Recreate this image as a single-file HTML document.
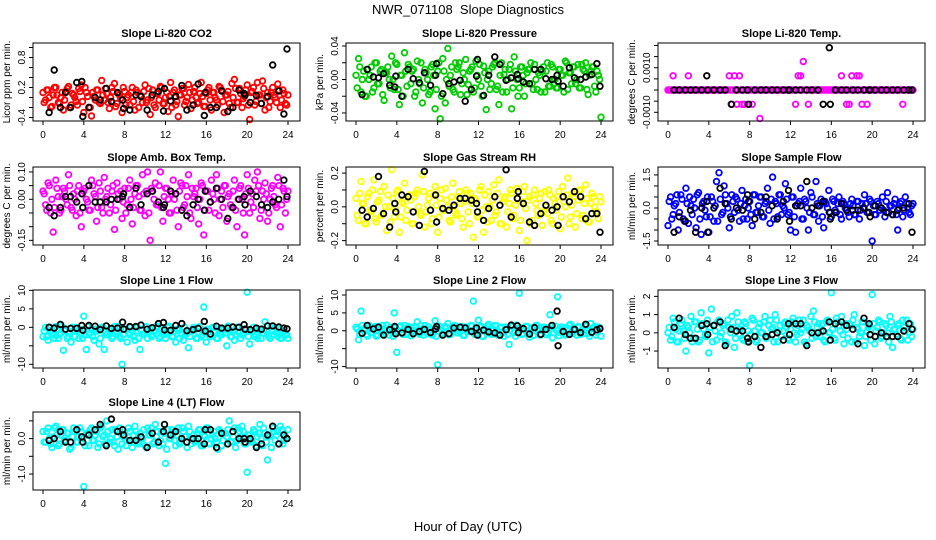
<!DOCTYPE html>
<html><head><meta charset="utf-8"><style>
html,body{margin:0;padding:0;background:#fff;}
svg{display:block;font-family:"Liberation Sans",sans-serif;}
</style></head><body>
<svg id="chart" width="936" height="540" viewBox="0 0 936 540" xmlns="http://www.w3.org/2000/svg">
<rect width="936" height="540" fill="#fff"/>
<text x="468" y="14" text-anchor="middle" font-size="13">NWR_071108&#160;&#160;Slope Diagnostics</text>
<text x="468" y="531" text-anchor="middle" font-size="13">Hour of Day (UTC)</text>
</svg>
<script>
const hoursC = [0,0.25,0.5,0.75,1,1.25,1.5,1.75,2,2.25,2.5,2.75,3,3.25,3.5,3.75,4,4.25,4.5,4.75,5,5.25,5.5,5.75,6,6.25,6.5,6.75,7,7.25,7.5,7.75,8,8.25,8.5,8.75,9,9.25,9.5,9.75,10,10.25,10.5,10.75,11,11.25,11.5,11.75,12,12.25,12.5,12.75,13,13.25,13.5,13.75,14,14.25,14.5,14.75,15,15.25,15.5,15.75,16,16.25,16.5,16.75,17,17.25,17.5,17.75,18,18.25,18.5,18.75,19,19.25,19.5,19.75,20,20.25,20.5,20.75,21,21.25,21.5,21.75,22,22.25,22.5,22.75,23,23.25,23.5,23.75,24];
const hoursC2 = [0.12,0.37,0.62,0.87,1.12,1.37,1.62,1.87,2.12,2.37,2.62,2.87,3.12,3.37,3.62,3.87,4.12,4.37,4.62,4.87,5.12,5.37,5.62,5.87,6.12,6.37,6.62,6.87,7.12,7.37,7.62,7.87,8.12,8.37,8.62,8.87,9.12,9.37,9.62,9.87,10.12,10.37,10.62,10.87,11.12,11.37,11.62,11.87,12.12,12.37,12.62,12.87,13.12,13.37,13.62,13.87,14.12,14.37,14.62,14.87,15.12,15.37,15.62,15.87,16.12,16.37,16.62,16.87,17.12,17.37,17.62,17.87,18.12,18.37,18.62,18.87,19.12,19.37,19.62,19.87,20.12,20.37,20.62,20.87,21.12,21.37,21.62,21.87,22.12,22.37,22.62,22.87,23.12,23.37,23.62,23.87];
const hoursB = [0.6,1.1,1.7,2.2,2.7,3.3,3.8,3.9,4.5,5.1,5.6,6.2,6.7,7.3,7.8,7.9,8.5,9.1,9.6,10.2,10.7,11.3,11.8,11.9,12.5,13.0,13.6,14.1,14.7,15.2,15.8,15.9,16.4,17.0,17.5,18.1,18.6,19.2,19.7,19.8,20.3,20.9,21.4,22.0,22.5,23.1,23.6,23.9];
const xTicks = [0,4,8,12,16,20,24];

const co2C = [0.1,-0.05,0.15,-0.2,0.05,0.2,-0.1,0.0,-0.25,0.12,0.22,-0.15,0.05,-0.08,0.18,0.25,-0.3,0.1,-0.2,-0.37,0.02,0.15,-0.1,0.34,-0.05,0.08,-0.22,0.2,0.28,-0.12,0.05,-0.3,0.12,0.0,-0.15,0.2,-0.25,0.1,0.05,-0.1,0.25,-0.05,-0.34,0.15,-0.2,0.08,0.22,-0.12,0.0,-0.28,0.3,0.1,-0.15,-0.38,0.05,0.18,-0.08,0.26,-0.22,0.12,0.0,-0.1,0.3,-0.18,0.08,0.2,-0.25,0.1,-0.05,0.22,0.15,-0.3,0.05,-0.12,0.28,0.36,-0.1,0.18,-0.2,0.02,0.25,-0.44,0.12,-0.15,0.3,0.05,0.33,-0.25,0.1,-0.08,0.2,0.0,0.27,-0.2,0.15,-0.12,0.05];
const co2C2 = [-0.1,0.15,0.0,-0.18,0.2,0.05,-0.12,0.1,-0.05,0.18,-0.2,0.08,0.0,-0.15,0.12,-0.08,0.2,0.02,-0.2,0.1,-0.05,0.15,-0.12,0.05,0.18,-0.1,0.0,0.12,-0.18,0.08,-0.02,0.2,-0.15,0.05,0.1,-0.08,0.15,-0.2,0.02,0.12,-0.1,0.18,0.0,-0.15,0.08,-0.05,0.2,-0.12,0.1,0.02,-0.2,0.15,-0.08,0.05,0.18,-0.15,0.0,0.1,-0.05,0.2,-0.12,0.08,0.02,-0.18,0.15,-0.05,0.1,0.0,-0.15,0.2,-0.08,0.05,0.12,-0.2,0.0,0.18,-0.1,0.08,-0.02,0.15,-0.15,0.1,0.2,-0.08,0.05,-0.12,0.18,0.0,-0.2,0.1,0.05,-0.1,0.15,-0.05,0.08,-0.15];
const co2B = [-0.3,0.55,-0.2,0.1,-0.2,0.3,0.32,-0.38,-0.2,0.0,-0.05,0.18,-0.08,0.1,-0.05,-0.22,-0.25,0.05,0.02,-0.25,0.05,0.12,-0.27,0.18,-0.07,0.02,0.24,-0.25,-0.15,0.27,-0.36,0.1,-0.2,-0.2,0.13,-0.28,-0.2,0.15,0.08,0.05,-0.1,0.04,-0.12,0.02,0.65,0.13,-0.33,0.97];
const presC = [0.005,0.025,-0.015,0.01,-0.02,0.0,0.015,-0.01,0.02,-0.005,0.012,-0.025,0.008,0.0,0.028,-0.012,0.018,-0.03,0.005,0.032,-0.008,0.015,0.01,-0.02,0.022,-0.005,-0.028,0.012,0.0,-0.015,0.018,-0.035,0.01,-0.047,0.025,-0.028,0.037,0.005,-0.012,0.02,0.015,-0.018,0.008,0.024,-0.006,0.012,-0.015,0.022,0.0,-0.008,0.016,-0.036,0.01,-0.005,0.018,-0.012,-0.03,0.02,0.006,-0.015,0.012,-0.035,0.027,0.0,-0.01,0.015,-0.02,0.008,0.012,-0.005,0.018,-0.012,0.005,0.01,-0.015,0.02,-0.008,0.015,0.0,-0.01,0.012,0.005,0.022,-0.012,0.008,0.015,-0.005,0.018,-0.01,0.012,0.02,-0.018,0.01,0.015,-0.015,0.005,-0.045];
const presC2 = [-0.01,0.015,0.0,-0.02,0.012,0.005,-0.015,0.02,-0.005,0.01,-0.018,0.008,0.015,-0.01,0.0,0.02,-0.012,0.005,-0.02,0.01,0.018,-0.005,0.012,-0.015,0.0,0.02,-0.01,0.008,-0.018,0.015,0.005,-0.012,0.02,-0.02,0.01,0.0,-0.008,0.015,-0.015,0.012,0.02,-0.005,0.0,-0.018,0.01,0.015,-0.01,0.005,0.018,-0.02,0.008,0.0,-0.012,0.015,0.02,-0.008,0.005,-0.015,0.012,0.0,0.018,-0.01,0.01,-0.02,0.015,0.005,-0.005,0.012,0.02,-0.012,0.0,0.008,-0.015,0.015,0.01,-0.008,0.018,0.0,-0.01,0.012,0.005,-0.015,0.02,0.008,-0.005,0.015,0.0,-0.01,0.018,0.01,-0.012,0.005,0.015,-0.008,0.01,0.0];
const presB = [-0.018,0.012,0.003,0.002,0.007,-0.007,-0.009,0.004,-0.02,0.012,0.001,-0.004,0.008,-0.007,0.005,0.019,-0.017,-0.005,-0.003,-0.001,-0.026,-0.012,0.004,0.024,-0.019,0.005,0.027,0.018,-0.001,0.002,0.006,0.001,-0.003,-0.005,0.012,0.012,0.001,0.0,0.005,-0.002,-0.008,0.014,0.002,0.0,0.003,0.006,0.019,-0.008];
const tempC = [0,0,0.00064,0,0,0,0,0,0.00064,0,0,0,0,0,0,0,0,0,0,0,0,0,0,0,0.00064,-0.00064,0.00064,-0.00064,0.00064,-0.00064,-0.00064,0,0,-0.00064,0,0,-0.00128,0,0,0,0,0,0,0,0,0,0,0,0,0,-0.00064,0.00064,0.00064,0.00128,0,-0.00064,0,0,0,0,0,0,0,0,0,0,0,0,0.00064,0,-0.00064,-0.00064,0.00064,0,0.00064,0.00064,-0.00064,0,-0.00064,0,0,0,0,0,0,0,0,0,0,0,0,0,-0.00064,0,0,0,0];
const tempC2 = [0,0,0,0,0,0,0,0,0,0,0,0,0,0,0,0,0,0,0,0,0,0,0,0,0,0,0,0,0,0,0,0,0,0,0,0,0,0,0,0,0,0,0,0,0,0,0,0,0,0,0,0,0,0,0,0,0,0,0,0,0,0,0,0,0,0,0,0,0,0,0,0,0,0,0,0,0,0,0,0,0,0,0,0,0,0,0,0,0,0,0,0,0,0,0,0];
const tempB = [0,0,0,0,0,0,0.00064,0,0,0,0,-0.00064,0,0,0,-0.00064,0,0,0,0,0,0,0,0,0,0,0,0,0,-0.00064,0.0019,-0.00064,0,0,0,0,0,0,0,0,0,0,0,0,0,0,0,0];
const ambC = [0.03,-0.02,0.06,-0.05,-0.12,0.07,0.01,-0.04,0.04,0.0,0.09,-0.03,0.02,-0.06,0.05,-0.1,0.03,0.0,-0.04,0.07,0.02,-0.08,0.06,-0.03,0.08,0.01,-0.05,0.03,-0.11,0.06,0.0,-0.07,0.04,-0.02,0.07,-0.09,0.02,0.05,-0.04,0.09,-0.06,0.1,-0.15,0.03,0.06,-0.02,0.1,-0.08,0.04,0.0,-0.05,0.07,0.02,-0.1,0.06,-0.03,0.05,0.09,-0.07,0.01,0.04,-0.09,0.06,-0.13,0.03,-0.04,0.07,0.0,0.09,-0.06,0.03,0.05,-0.08,0.02,-0.03,0.07,-0.1,0.04,0.0,-0.13,0.09,-0.05,0.02,0.07,0.1,-0.07,0.03,0.06,-0.08,0.0,0.05,-0.02,0.08,-0.1,0.04,-0.05,0.03];
const ambC2 = [0.02,-0.04,0.05,0.0,-0.03,0.04,-0.05,0.01,0.03,-0.02,0.05,-0.04,0.0,0.03,-0.05,0.02,0.04,-0.01,-0.04,0.05,0.01,-0.03,0.03,-0.05,0.0,0.04,-0.02,0.05,-0.04,0.02,0.03,-0.01,-0.05,0.04,0.0,-0.03,0.05,0.01,-0.04,0.02,0.03,-0.05,0.04,0.0,-0.02,0.05,-0.03,0.01,0.04,-0.05,0.02,0.0,-0.04,0.03,0.05,-0.02,0.01,-0.05,0.04,0.02,-0.03,0.0,0.05,-0.04,0.03,-0.01,0.02,-0.05,0.04,0.0,-0.03,0.05,0.01,-0.02,0.03,-0.04,0.0,0.05,-0.05,0.02,0.04,-0.01,-0.03,0.03,0.05,-0.04,0.0,0.02,-0.05,0.04,0.01,-0.03,0.05,-0.02,0.03,0.0];
const ambB = [-0.03,-0.06,-0.03,0.01,0.01,-0.01,0.02,-0.03,0.05,-0.01,-0.01,-0.01,0.0,0.0,0.01,0.02,-0.03,0.04,-0.02,0.02,0.03,-0.01,-0.03,-0.02,0.03,0.02,-0.04,-0.06,-0.02,0.0,-0.04,0.03,-0.01,0.04,0.0,-0.07,-0.03,0.0,0.01,-0.02,0.03,0.01,-0.02,-0.03,-0.01,0.0,0.07,0.01];
const rhC = [0.05,-0.08,0.15,0.02,-0.1,0.08,-0.03,0.16,-0.09,0.04,-0.05,0.12,-0.14,0.0,0.22,-0.06,0.09,-0.15,0.03,0.14,-0.02,0.07,-0.1,0.06,0.1,-0.04,0.19,-0.12,0.01,0.08,-0.07,0.12,-0.15,0.05,-0.02,0.11,0.0,-0.09,0.14,-0.05,0.06,0.02,-0.12,0.1,-0.03,0.08,-0.18,0.04,-0.06,0.12,-0.15,0.0,0.09,-0.08,0.13,-0.03,0.16,-0.1,0.05,-0.12,0.02,0.08,-0.05,0.11,-0.14,0.03,0.12,-0.2,0.06,-0.08,0.1,-0.02,0.05,-0.11,0.09,-0.04,0.07,-0.1,0.02,0.06,-0.13,0.12,0.0,0.17,-0.06,0.08,-0.12,0.04,0.1,-0.05,0.13,-0.09,0.02,0.06,-0.03,-0.07,0.03];
const rhC2 = [-0.05,0.08,0.02,-0.1,0.06,-0.02,0.1,-0.07,0.03,0.09,-0.04,0.0,0.07,-0.09,0.05,-0.01,0.1,-0.06,0.02,-0.08,0.06,0.04,-0.1,0.08,0.0,-0.05,0.09,-0.03,0.05,-0.1,0.07,0.01,-0.06,0.1,-0.02,0.04,-0.08,0.06,0.0,-0.04,0.09,-0.07,0.03,0.08,-0.1,0.02,0.05,-0.06,0.1,-0.02,0.07,-0.09,0.0,0.04,-0.05,0.08,-0.1,0.03,0.06,-0.03,0.1,-0.07,0.01,0.05,-0.08,0.09,-0.01,0.04,-0.1,0.07,0.02,-0.05,0.08,-0.03,0.0,0.1,-0.08,0.05,-0.02,0.09,-0.06,0.03,0.07,-0.1,0.01,0.06,-0.04,0.1,-0.07,0.02,0.05,-0.09,0.08,0.0,-0.03,0.06];
const rhB = [-0.02,-0.06,-0.01,0.18,-0.04,-0.12,0.02,-0.03,0.07,0.06,-0.03,-0.11,0.21,-0.02,0.07,-0.09,-0.01,-0.02,0.01,0.05,0.05,0.04,0.02,-0.03,-0.08,-0.01,0.06,0.01,0.22,-0.06,0.05,0.09,0.02,-0.09,-0.11,-0.04,0.01,-0.02,0.0,-0.11,0.06,0.03,0.09,0.06,-0.07,-0.04,-0.04,-0.15];
const sampC = [-0.8,0.5,-0.3,0.2,-1.0,0.6,-0.5,0.9,-0.7,0.1,0.4,-0.9,0.7,-1.2,0.3,-0.4,-1.1,0.5,-0.6,1.2,1.6,-0.3,1.0,0.2,-0.9,0.6,-0.2,0.4,-0.6,0.8,0.1,-0.5,0.3,-0.8,0.6,-0.2,0.5,-0.4,0.2,0.9,-0.7,1.4,0.3,-0.4,0.6,0.1,1.1,-0.3,-1.0,0.5,-1.1,0.2,0.9,-0.5,0.3,-1.0,0.7,-0.3,1.2,-0.6,0.4,-0.9,0.2,0.8,-0.4,0.3,-0.2,0.5,-0.5,0.2,0.0,-0.4,0.4,-0.3,0.3,-0.5,0.2,0.6,-0.2,0.4,-1.5,-0.3,0.3,-0.1,0.5,-0.4,0.7,0.1,-0.3,0.4,-1.0,0.2,-0.4,0.5,0.0,-0.3,0.2];
const sampC2 = [0.3,-0.5,0.1,0.6,-0.2,0.4,-0.6,0.2,0.5,-0.3,0.0,0.6,-0.5,0.2,-0.1,0.5,-0.4,0.3,0.1,-0.6,0.4,-0.2,0.6,0.0,-0.4,0.3,0.5,-0.1,0.2,-0.5,0.4,0.0,-0.3,0.6,-0.2,0.1,0.5,-0.4,0.3,-0.1,0.4,-0.5,0.2,0.6,-0.3,0.0,0.4,-0.2,0.5,-0.4,0.1,0.3,-0.5,0.4,0.0,-0.2,0.5,-0.3,0.2,0.1,-0.4,0.3,0.0,-0.2,0.4,-0.1,0.2,-0.3,0.3,0.0,-0.2,0.2,0.1,-0.3,0.3,-0.1,0.0,0.2,-0.2,0.3,0.1,-0.3,0.2,0.0,-0.1,0.3,-0.2,0.1,0.2,-0.3,0.0,0.3,-0.1,0.2,-0.2,0.1,0.0];
const sampB = [-1.1,-0.4,-0.6,-0.1,-1.1,0.0,0.3,-1.1,0.0,0.9,0.2,-0.5,0.0,-0.1,0.6,0.3,-0.5,-0.2,0.5,0.1,-0.5,0.3,0.8,-0.6,0.1,0.1,1.2,0.0,0.1,0.3,-0.2,-0.5,-0.2,0.2,-0.1,-0.1,-0.1,0.0,-0.2,-0.4,0.1,0.0,-0.2,-0.3,-0.1,0.0,0.2,-1.1];
const l1C = [-2.5,0.0,-3.5,-1.0,-2.0,0.2,-3.0,-1.5,-6.2,-0.5,-2.5,-4.0,-1.0,0.0,-3.0,-1.5,3.0,-6.0,-2.0,-0.5,-3.5,-1.0,-4.5,0.0,-6.0,-2.0,-1.0,-3.0,0.2,-1.5,-2.5,-10.0,-0.5,-4.0,-2.0,-1.0,-3.5,0.0,-6.0,-2.0,-1.5,-3.0,-0.5,-2.0,-1.0,0.3,-2.5,-1.5,-3.0,0.0,-1.0,-2.5,-4.0,-0.5,-1.5,-3.5,-2.0,-5.5,-1.0,0.0,-3.0,-1.5,-2.5,5.5,-4.0,-1.0,-2.0,0.0,-3.0,-1.5,-2.0,-0.5,-5.0,-1.0,-2.5,-3.5,0.0,-1.5,-2.0,-0.5,9.5,-4.5,-1.0,-2.5,-3.0,-0.5,-1.5,1.5,-2.0,-3.0,-1.0,0.0,-2.5,-3.0,-1.5,-2.0,-3.0];
const l1C2 = [-1.0,-2.5,0.0,-1.5,-3.0,-0.5,-2.0,0.3,-1.0,-3.0,-1.5,0.0,-2.5,-1.0,-0.5,-3.0,-2.0,0.2,-1.5,-2.5,-0.5,-1.0,-3.0,0.0,-2.0,-1.5,-0.5,-2.5,-1.0,0.3,-3.0,-2.0,-0.5,-1.5,0.0,-2.5,-1.0,-3.0,-0.5,-2.0,0.2,-1.5,-2.5,-1.0,0.0,-3.0,-0.5,-2.0,-1.5,0.3,-2.5,-1.0,-0.5,-3.0,-2.0,0.0,-1.5,-2.5,-1.0,-0.5,-3.0,0.2,-2.0,-1.5,-0.5,-2.5,0.0,-1.0,-3.0,-2.0,-0.5,-1.5,0.3,-2.5,-1.0,-2.0,0.0,-3.0,-1.5,-0.5,-2.5,-1.0,0.0,-2.0,-1.5,-3.0,-0.5,-1.0,-2.5,0.2,-2.0,-1.5,-0.5,-3.0,-1.0,-2.0];
const l1B = [0,-0.2,0.8,-0.5,-0.3,-0.3,0.5,-0.8,0.5,0.3,-0.6,0.4,-0.3,-0.2,1.4,-0.5,0.2,0.2,0.6,-0.5,-0.1,1.0,1.3,-0.7,-0.8,0.5,1.0,-0.9,-0.6,-0.3,1.6,-1.0,-1.8,0.3,-0.2,-0.2,0.1,0.0,0.7,-0.5,-0.6,-0.2,-0.5,0.4,0.4,0.1,-0.2,-0.4];
const l2C = [1.0,-2.5,5.5,0.5,-1.0,1.5,-0.5,0.8,-1.5,1.2,-0.8,0.3,1.6,-1.2,0.5,5.0,-6.0,1.0,-0.5,1.5,-1.0,0.8,-0.3,1.2,2.5,-1.0,0.5,1.5,-0.8,0.3,-1.2,2.8,-9.5,1.0,-0.5,1.2,2.0,-1.0,0.5,1.4,-0.6,0.8,-1.3,1.0,0.2,1.5,8.3,-0.8,3.0,1.2,-1.5,0.6,1.8,-1.0,0.3,1.4,-0.7,1.0,-1.5,0.5,-3.8,1.2,-0.5,1.6,10.5,-1.0,0.3,1.2,-1.8,0.8,0.0,1.5,-1.2,0.4,1.0,-0.6,4.5,-2.0,1.3,9.5,-0.5,1.0,-1.2,0.6,1.8,-0.8,0.3,1.2,-1.0,0.5,1.5,-0.7,2.0,0.8,-1.2,1.0,-1.5];
const l2C2 = [0.5,-1.0,1.5,0.0,-1.5,1.0,-0.5,1.2,-1.2,0.3,1.5,-0.8,0.0,1.0,-1.5,0.8,-0.3,1.4,-1.0,0.5,1.2,-1.4,0.2,0.9,-0.6,1.5,-1.2,0.0,1.1,-0.9,0.6,-1.5,1.3,0.2,-0.8,1.0,-1.1,0.4,1.5,-0.5,0.0,1.2,-1.3,0.7,-0.2,1.4,-1.0,0.5,1.0,-1.5,0.3,1.3,-0.7,0.0,1.5,-1.2,0.8,-0.4,1.1,-1.0,0.2,1.4,-1.5,0.6,0.9,-0.8,1.2,-0.2,0.4,-1.3,1.5,0.0,-0.9,1.0,-1.1,0.7,1.3,-0.5,0.2,-1.4,1.1,0.5,-1.0,1.5,-0.3,0.8,-1.2,1.0,0.0,-0.7,1.4,-1.5,0.6,1.2,-0.4,0.9,-1.0];
const l2B = [-0.7,1.5,0.5,1.0,-1.2,0.3,1.2,-0.8,-0.6,0.4,-0.8,-0.2,0.4,-0.5,0.5,1.2,-1.2,-0.8,0.8,1.0,0.8,-0.2,0.8,-1.2,0.2,-0.3,-0.6,-1.2,0.3,1.6,1.4,-0.5,0.6,-0.9,0.9,-1.0,0.4,1.5,5.5,-4.2,-0.2,-1.0,0.4,-0.5,1.8,-0.4,0.3,0.6];
const l3C = [0.0,-0.4,0.8,0.2,-0.5,0.5,0.1,-1.0,0.3,0.9,-0.3,0.6,-0.5,1.1,0.2,-0.2,-1.1,1.3,0.4,-0.4,0.7,0.0,0.5,-0.6,0.3,0.9,-0.8,1.1,0.2,-0.3,0.6,-0.5,-1.8,0.8,0.1,-0.4,0.5,0.0,0.9,-0.2,0.7,0.3,1.0,-0.5,0.4,0.1,0.6,-0.3,0.2,0.8,-0.5,0.4,0.0,0.7,-0.6,0.3,0.9,1.2,-0.2,0.5,0.1,-0.4,0.6,0.0,2.2,-0.3,0.8,0.4,0.9,-0.6,0.2,0.5,-0.5,1.0,0.3,-0.2,0.6,-0.7,0.1,0.4,2.1,-0.6,0.3,0.6,-0.2,0.5,0.0,0.9,-0.8,0.2,0.4,-0.3,0.7,0.1,-0.4,0.5,0.2];
const l3C2 = [0.3,-0.2,0.6,-0.5,0.1,0.7,-0.3,0.4,0.0,-0.5,0.6,0.2,-0.4,0.5,-0.1,0.7,0.3,-0.5,0.1,0.6,-0.2,0.4,-0.5,0.7,0.0,0.3,-0.3,0.6,0.2,-0.4,0.5,0.1,-0.1,0.7,-0.5,0.3,0.0,0.6,-0.3,0.4,0.2,-0.5,0.7,0.1,-0.2,0.5,0.3,-0.4,0.6,0.0,-0.1,0.7,0.2,-0.5,0.4,0.1,-0.3,0.6,0.3,-0.2,0.5,-0.5,0.7,0.0,0.2,-0.4,0.6,0.1,-0.1,0.5,-0.3,0.4,0.7,-0.5,0.2,0.0,0.6,-0.2,0.3,-0.4,0.5,0.1,0.7,-0.3,0.0,0.4,-0.5,0.6,0.2,-0.1,0.5,-0.4,0.3,0.7,0.0,-0.2];
const l3B = [0.3,0.8,-0.1,-0.3,-0.3,0.4,0.5,-0.1,0.4,0.6,-0.7,0.2,0.1,0.1,-0.3,-0.5,-0.2,-0.8,-0.2,-0.1,0.0,-0.4,0.5,-0.1,0.5,0.5,-0.7,0.0,0.0,0.1,0.6,-0.4,0.5,0.6,0.4,0.2,-0.6,0.8,0.5,-0.1,-0.2,0.0,-0.2,-0.2,-0.2,0.1,0.5,0.2];
const l4C = [0.2,-0.1,0.3,-0.15,0.05,0.35,-0.2,0.1,0.25,-0.05,0.15,-0.25,0.3,-0.1,0.05,0.2,-1.35,0.1,-0.2,0.3,-0.05,0.2,-0.15,0.35,0.1,0.5,-0.1,0.25,-0.2,0.05,0.3,-0.15,0.1,-0.05,0.2,-0.25,0.35,-0.1,0.15,0.0,-0.2,0.3,0.1,-0.15,0.4,0.2,-0.05,-0.15,-0.7,0.25,0.0,0.15,-0.2,0.3,-0.1,0.2,0.05,0.35,-0.15,0.1,-0.05,0.25,-0.2,0.1,0.3,-0.15,0.0,0.2,-0.1,0.25,-0.2,0.15,0.05,0.5,-0.1,0.3,-0.05,0.2,0.35,-0.15,-0.95,0.1,-0.1,0.2,0.05,0.4,-0.2,0.15,-0.6,0.1,0.3,-0.05,0.2,0.35,-0.15,0.05,0.25];
const l4C2 = [-0.1,0.2,0.0,-0.25,0.3,0.1,-0.15,0.25,-0.05,0.15,-0.3,0.05,0.2,-0.1,0.3,0.0,-0.2,0.15,0.25,-0.05,0.1,-0.25,0.3,0.05,-0.15,0.2,0.0,-0.1,0.25,-0.3,0.15,0.05,-0.2,0.3,-0.05,0.1,0.2,-0.15,0.0,0.25,-0.25,0.1,0.3,-0.1,0.05,-0.2,0.2,0.15,-0.3,0.0,0.25,-0.05,0.1,-0.15,0.3,0.05,-0.25,0.2,0.0,-0.1,0.15,0.25,-0.2,0.05,0.3,-0.15,0.1,0.0,-0.3,0.2,-0.05,0.15,0.25,-0.1,0.05,-0.25,0.3,0.0,0.2,-0.15,0.1,-0.05,0.25,-0.2,0.15,0.0,0.3,-0.1,0.05,-0.25,0.2,0.1,-0.15,0.25,-0.05,0.0];
const l4B = [-0.05,0.0,0.2,-0.1,-0.1,0.25,0.05,-0.1,0.1,0.25,0.4,-0.2,0.55,0.2,0.25,0.1,-0.05,-0.05,0.05,-0.25,0.15,-0.1,0.2,0.4,0.1,0.2,0.0,-0.1,0.0,0.0,-0.15,0.25,0.25,-0.25,0.15,-0.15,0.2,0.0,0.0,-0.1,0.0,-0.25,-0.15,0.1,0.35,-0.15,0.1,0.0];

const panelTitles = ["Slope Li-820 CO2","Slope Li-820 Pressure","Slope Li-820 Temp.","Slope Amb. Box Temp.","Slope Gas Stream RH","Slope Sample Flow","Slope Line 1 Flow","Slope Line 2 Flow","Slope Line 3 Flow","Slope Line 4 (LT) Flow"];
const panelYLabels = ["Licor ppm per min.","kPa per min.","degrees C per min.","degrees C per min.","percent per min.","ml/min per min.","ml/min per min.","ml/min per min.","ml/min per min.","ml/min per min."];
const panelNames = ["co2","pressure","licor-temp","amb-box-temp","gas-stream-rh","sample-flow","line1-flow","line2-flow","line3-flow","line4-flow"];
const panelYTicks = [[-0.4,-0.2,0,0.2,0.4,0.6,0.8,1.0],[-0.04,-0.02,0,0.02,0.04],[-0.001,-0.0005,0,0.0005,0.001,0.0015,0.002],[-0.15,-0.1,-0.05,0,0.05,0.1],[-0.2,-0.1,0,0.1,0.2],[-1.5,-1,-0.5,0,0.5,1,1.5],[-10,-5,0,5,10],[-10,-5,0,5,10],[-1,0,1,2],[-1,-0.5,0,0.5]];
const panelYTickLabels = [["-0.4","","","0.2","","","0.8",""],["-0.04","","0.00","","0.04"],["-0.0010","","","","0.0010","",""],["-0.15","","","0.00","","0.10"],["-0.2","","0.0","","0.2"],["-1.5","","","0.0","","","1.5"],["-10","","0","5","10"],["-10","","0","5","10"],["-1","0","1","2"],["-1.0","","0.0",""]];
const panelYMin = [-0.47,-0.0496,-0.00139,-0.167,-0.226,-1.68,-11,-10.4,-1.93,-1.45];
const panelYMax = [1.09,0.0436,0.00211,0.118,0.236,1.86,10.1,11.4,2.35,0.75];
const panelColored = [co2C,presC,tempC,ambC,rhC,sampC,l1C,l2C,l3C,l4C];
const panelColored2 = [co2C2,presC2,tempC2,ambC2,rhC2,sampC2,l1C2,l2C2,l3C2,l4C2];
const panelBlack = [co2B,presB,tempB,ambB,rhB,sampB,l1B,l2B,l3B,l4B];
const panelColors = ["#ff0000","#00cd00","#ff00ff","#ff00ff","#ffff00","#0000ff","#00ffff","#00ffff","#00ffff","#00ffff"];

const NS = "http://www.w3.org/2000/svg";
const svg = document.getElementById("chart");
const colLeft = [33,346,658], rowTop = [43,167,290,412], boxW = 267, boxH = 78;
function mk(tag, attrs, parent){const e=document.createElementNS(NS,tag);for(const k in attrs)e.setAttribute(k,attrs[k]);parent.appendChild(e);return e;}

for (let p = 0; p < 10; p++) {
  const L = colLeft[p%3], T = rowTop[Math.floor(p/3)];
  const g = mk("g", {}, svg);
  
  
  const xs = h => L + 10 + h * (245/24);
  const ys = v => T + boxH - (v - panelYMin[p]) / (panelYMax[p] - panelYMin[p]) * boxH;
  const t = mk("text", {x: L + boxW/2, y: T - 6, "text-anchor":"middle", "font-size":"11", "font-weight":"bold"}, g);
  t.textContent = panelTitles[p];
  
  
  const pts = mk("g", {fill:"none", "stroke-width":"1.8"}, g);
  
  
  const cs = panelColored[p];
  for (let i = 0; i < cs.length && i < hoursC.length; i++) {
    const c = mk("circle", {cx: xs(hoursC[i]).toFixed(1), cy: ys(cs[i]).toFixed(1), r: 2.8, stroke: panelColors[p]}, pts);
    
    
  }
  const cs2 = panelColored2[p];
  for (let i = 0; i < cs2.length && i < hoursC2.length; i++) {
    const c = mk("circle", {cx: xs(hoursC2[i]).toFixed(1), cy: ys(cs2[i]).toFixed(1), r: 2.8, stroke: panelColors[p]}, pts);
    
    
  }
  const bg = mk("g", {fill:"none", "stroke-width":"1.8"}, g);
  
  
  const bs = panelBlack[p];
  for (let i = 0; i < bs.length && i < hoursB.length; i++) {
    const c = mk("circle", {cx: xs(hoursB[i]).toFixed(1), cy: ys(bs[i]).toFixed(1), r: 2.8, stroke: "#000"}, bg);
    
    
  }
  const box = mk("rect", {x: L, y: T, width: boxW, height: boxH, fill:"none", stroke:"#000", "stroke-width":"1"}, g);
  
  
  const xa = mk("g", {}, g);
  
  
  xTicks.forEach(h => {
    mk("line", {x1: xs(h), x2: xs(h), y1: T+boxH, y2: T+boxH+4, stroke:"#000"}, xa);
    const tl = mk("text", {x: xs(h), y: T+boxH+17, "text-anchor":"middle", "font-size":"10"}, xa);
    tl.textContent = h;
    
    
  });
  const ya = mk("g", {}, g);
  
  
  panelYTicks[p].forEach((v, i) => {
    const y = ys(v);
    mk("line", {x1: L-4, x2: L, y1: y, y2: y, stroke:"#000"}, ya);
    const lab = panelYTickLabels[p][i];
    if (lab) {
      const tl = mk("text", {x: 0, y: 0, "text-anchor":"middle", "font-size":"10", transform:`translate(${L-8},${y}) rotate(-90)`}, ya);
      tl.textContent = lab;
      
      
    }
  });
  const yl = mk("text", {x: 0, y: 0, "text-anchor":"middle", "font-size":"10", transform:`translate(${L-23},${T+boxH/2}) rotate(-90)`}, g);
  yl.textContent = panelYLabels[p];
  
  
}
</script>
</body></html>
